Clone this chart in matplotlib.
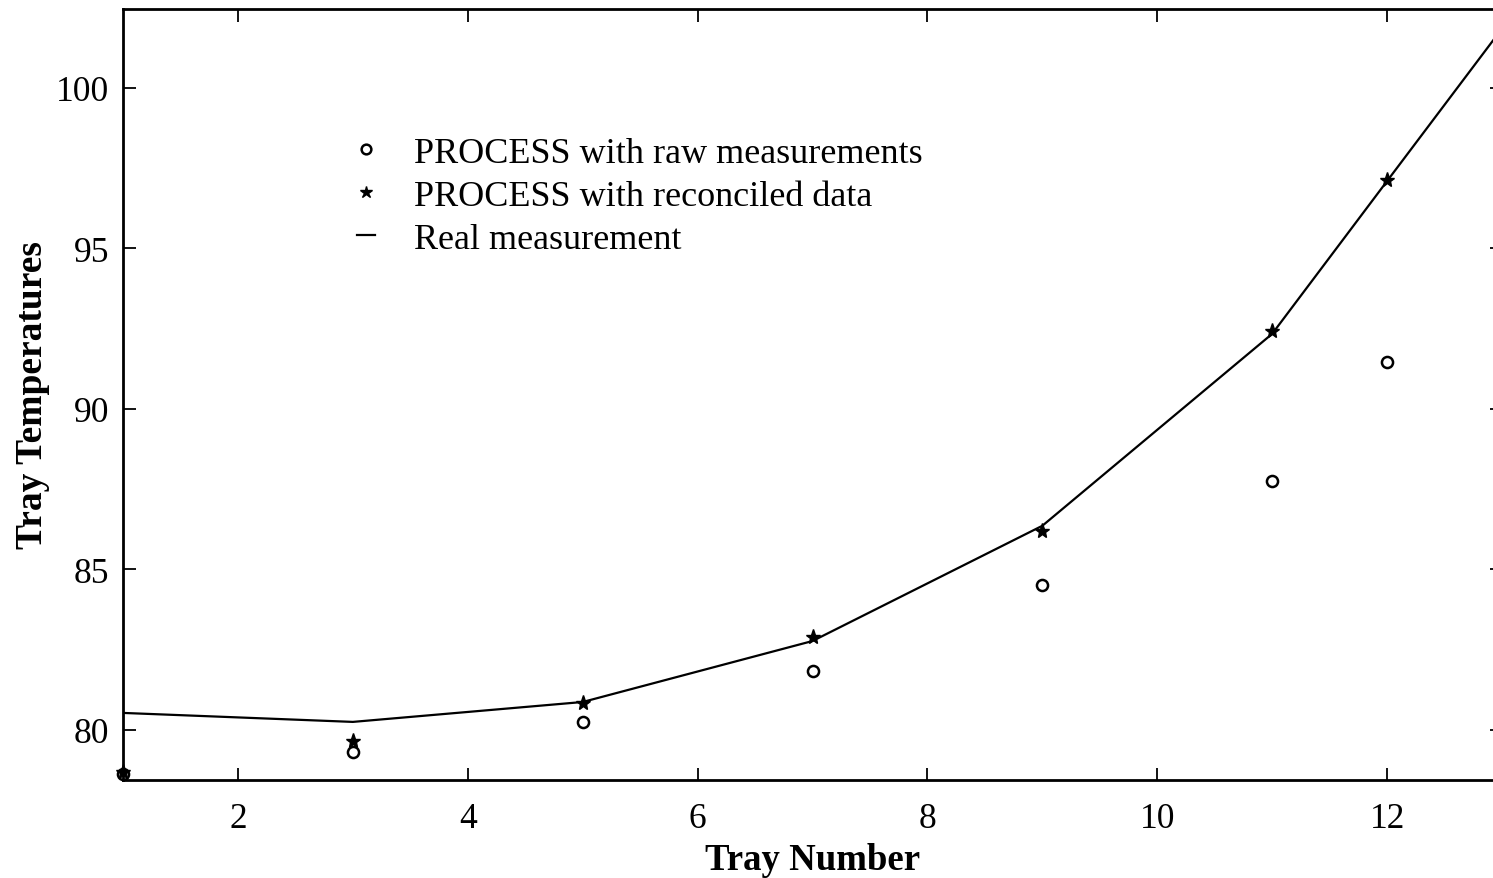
import matplotlib
matplotlib.use("Agg")
import matplotlib.pyplot as plt

# Data
tray_line = [1, 3, 5, 7, 9, 11, 12, 13]
real_meas = [80.53, 80.25, 80.87, 82.77, 86.36, 92.34, 97.10, 101.85]

tray_pts = [1, 3, 5, 7, 9, 11, 12]
raw_vals = [78.62, 79.31, 80.25, 81.84, 84.52, 87.76, 91.46]
recon_vals = [78.68, 79.66, 80.84, 82.90, 86.20, 92.43, 97.13]

x_ticks = [2, 4, 6, 8, 10, 12]
y_ticks = [80, 85, 90, 95, 100]

plt.rcParams['font.family'] = ['Liberation Serif', 'DejaVu Serif']

fig = plt.figure(figsize=(14.93, 8.79), dpi=100)
ax = fig.add_axes([123/1493, 1 - 781/879, (1502 - 123)/1493, (781 - 10)/879])

ax.plot(tray_line, real_meas, color='black', lw=1.6, label='Real measurement')
ax.plot(tray_pts, raw_vals, linestyle='none', marker='o', ms=8, mfc='white',
        mec='black', mew=1.8, label='PROCESS with raw measurements', clip_on=False)
ax.plot(tray_pts, recon_vals, linestyle='none', marker='*', ms=11, color='black',
        label='PROCESS with reconciled data', clip_on=False)

ax.set_xlim(1, 13)
ax.set_ylim(78.44, 102.46)
ax.set_xticks(x_ticks)
ax.set_yticks(y_ticks)
ax.tick_params(direction='in', length=9, width=1.3, top=True, right=True,
               labelsize=25.5, colors='black')
ax.tick_params(axis='x', pad=16)
ax.tick_params(axis='y', pad=10)
for s in ax.spines.values():
    s.set_linewidth(2)

ax.set_xlabel('Tray Number', fontsize=26.5, fontweight='bold', labelpad=5)
ax.set_ylabel('Tray Temperatures', fontsize=27, fontweight='bold', labelpad=4.5)

h, l = ax.get_legend_handles_labels()
order = [1, 2, 0]
leg = ax.legend([h[i] for i in order], [l[i] for i in order], frameon=False,
                loc='upper left', bbox_to_anchor=(0.159, 0.853), fontsize=26,
                handlelength=0.5, handletextpad=1.1, labelspacing=0.27,
                borderaxespad=0)
leg.legend_handles[0].set_markersize(7)
leg.legend_handles[1].set_markersize(9)

fig.savefig('out.png', dpi=100)
